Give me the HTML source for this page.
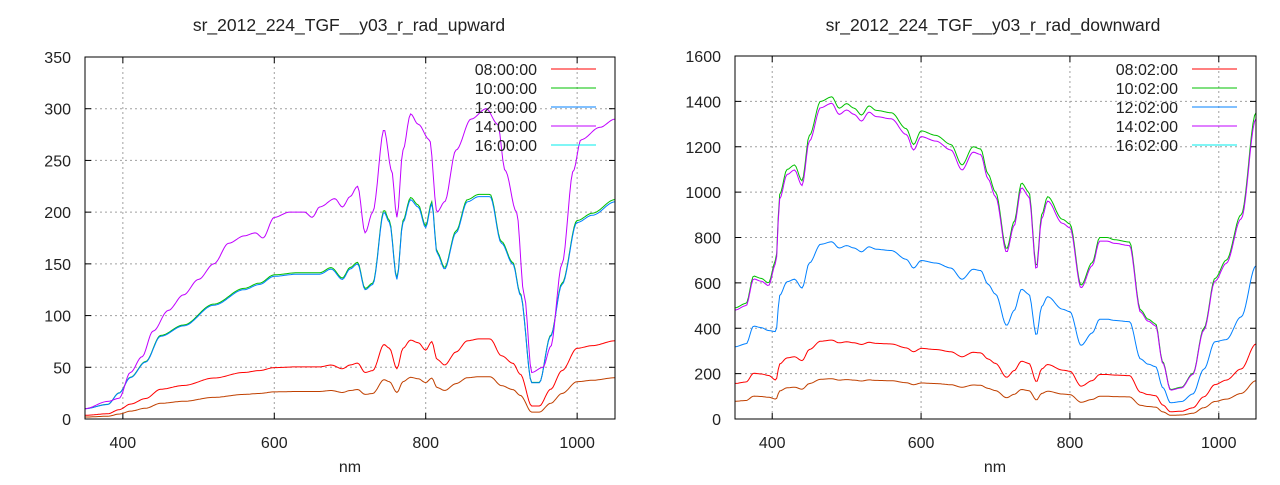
<!DOCTYPE html>
<html><head><meta charset="utf-8"><style>
body{margin:0;background:#fff;}
svg text{font-family:"Liberation Sans",sans-serif;font-size:16px;fill:#222;}
svg text.t{font-size:17.5px;}
</style></head><body>
<svg id="s" width="1280" height="480" xmlns="http://www.w3.org/2000/svg">
<text class="t" x="349" y="31" text-anchor="middle">sr_2012_224_TGF__y03_r_rad_upward</text>
<text class="t" x="993" y="31" text-anchor="middle">sr_2012_224_TGF__y03_r_rad_downward</text>
<text x="350" y="472" text-anchor="middle">nm</text>
<text x="995" y="472" text-anchor="middle">nm</text>
</svg>
<script>
const S=document.getElementById('s'),NS='http://www.w3.org/2000/svg';
function el(t,a,txt){const e=document.createElementNS(NS,t);for(const k in a)e.setAttribute(k,a[k]);if(txt!==undefined)e.textContent=txt;S.appendChild(e);return e;}
function interp(pts,x){for(let i=0;i<pts.length-1;i++){if(x<=pts[i+1][0]){const [x0,y0]=pts[i],[x1,y1]=pts[i+1];const t=(x-x0)/(x1-x0);const s=t*t*(3-2*t);return y0+(y1-y0)*s;}}return pts[pts.length-1][1];}
function plot(P){
 const X=v=>P.x0+(v-350)*(P.x1-P.x0)/700, Y=v=>P.y1-(v)*(P.y1-P.y0)/P.ymax;
 for(let v=0;v<=P.ymax;v+=P.ystep){const y=Y(v);
  if(v>0&&v<P.ymax)el('line',{x1:P.x0,x2:P.x1,y1:y,y2:y,stroke:'#a0a0a0','stroke-dasharray':'2,3'});
  el('line',{x1:P.x0,x2:P.x0+6,y1:y,y2:y,stroke:'#000'});el('line',{x1:P.x1,x2:P.x1-6,y1:y,y2:y,stroke:'#000'});
  el('text',{x:P.x0-14,y:y+6,'text-anchor':'end'},v);}
 for(let v=400;v<=1000;v+=200){const x=X(v);
  el('line',{x1:x,x2:x,y1:P.y0,y2:P.y1,stroke:'#a0a0a0','stroke-dasharray':'2,3'});
  el('line',{x1:x,x2:x,y1:P.y1,y2:P.y1-6,stroke:'#000'});el('line',{x1:x,x2:x,y1:P.y0,y2:P.y0+6,stroke:'#000'});
  el('text',{x:x,y:P.y1+29,'text-anchor':'middle'},v);}
 for(const s of P.series){let d='';for(let n=350;n<=1050;n+=2){let v=interp(s.pts,n)*s.k;d+=(d?'L':'M')+X(n).toFixed(1)+','+Y(Math.max(v,0)).toFixed(1);}
  el('path',{d:d,fill:'none',stroke:s.c,'stroke-width':1});}
 el('rect',{x:P.x0,y:P.y0,width:P.x1-P.x0,height:P.y1-P.y0,fill:'none',stroke:'#000'});
 const L=P.labels,cols=['#ff0000','#00c000','#0080ff','#c000ff','#00eeee'];
 for(let i=0;i<5;i++){const y=69+19*i;el('text',{x:P.lx,y:y+6,'text-anchor':'end'},L[i]);el('line',{x1:P.lx+14,x2:P.lx+59,y1:y,y2:y,stroke:cols[i]});}
}
const pu=[[350,10],[380,17],[395,20],[410,45],[425,60],[440,85],[460,105],[480,120],[500,135],[520,150],[540,170],[560,177],[575,180],[585,175],[600,195],[620,200],[640,200],[650,195],[660,205],[680,213],[690,205],[700,215],[710,225],[720,180],[730,200],[745,280],[755,240],[762,195],[770,260],[780,295],[790,285],[805,270],[815,200],[825,210],[840,260],[860,290],[880,300],[895,285],[905,240],[920,200],[930,120],[940,45],[955,50],[965,70],[980,150],[995,240],[1005,270],[1030,282],[1050,290]];
const bu=[[350,10],[380,14],[395,25],[410,40],[430,55],[450,80],[480,90],[520,110],[560,125],[580,130],[600,138],[630,140],[660,140],[675,145],[690,135],[700,145],[710,150],[720,125],[730,130],[745,200],[752,190],[762,135],[770,190],[780,212],[790,205],[800,185],[808,208],[815,160],[825,145],[840,180],[855,210],[870,215],[885,215],[900,170],[915,150],[925,120],[940,35],[950,35],[965,80],[980,130],[1000,190],[1020,197],[1050,210]];
plot({x0:85,x1:615,y0:57,y1:419,ymax:350,ystep:50,lx:537,labels:['08:00:00','10:00:00','12:00:00','14:00:00','16:00:00'],
 series:[{pts:bu,k:0.19,c:'#c04000'},{pts:bu,k:0.36,c:'#ff0000'},{pts:bu,k:1.01,c:'#00c000'},{pts:bu,k:1,c:'#0080ff'},{pts:pu,k:1,c:'#c000ff'}]});
const gd=[[350,490],[365,510],[375,630],[385,620],[395,600],[405,700],[410,990],[420,1100],[430,1120],[440,1050],[450,1250],[465,1400],[480,1420],[490,1370],[500,1390],[510,1370],[520,1340],[530,1380],[540,1360],[560,1350],[580,1280],[590,1210],[600,1270],[620,1250],[640,1210],[655,1120],[670,1200],[680,1190],[690,1080],[700,1000],[715,750],[725,870],[735,1040],[745,1000],[755,670],[762,900],[770,980],[790,880],[800,860],[815,590],[830,690],[840,800],[850,800],[860,790],[880,780],[895,480],[905,440],[915,420],[925,250],[935,130],[950,140],[965,200],[980,400],[995,620],[1010,700],[1030,900],[1050,1350]];
const bd=gd.map(p=>[p[0],p[1]*(p[0]<400?0.65:p[0]>1000?0.5:0.55)]);
const rd=gd.map(p=>[p[0],p[1]*(p[0]<400?0.32:0.245)]);
const brd=gd.map(p=>[p[0],p[1]*(p[0]<400?0.16:0.125)]);
plot({x0:735,x1:1256,y0:56,y1:419,ymax:1600,ystep:200,lx:1178,labels:['08:02:00','10:02:00','12:02:00','14:02:00','16:02:00'],
 series:[{pts:brd,k:1,c:'#c04000'},{pts:rd,k:1,c:'#ff0000'},{pts:bd,k:1,c:'#0080ff'},{pts:gd,k:1,c:'#00c000'},{pts:gd,k:0.98,c:'#c000ff'}]});
</script>
</body></html>
